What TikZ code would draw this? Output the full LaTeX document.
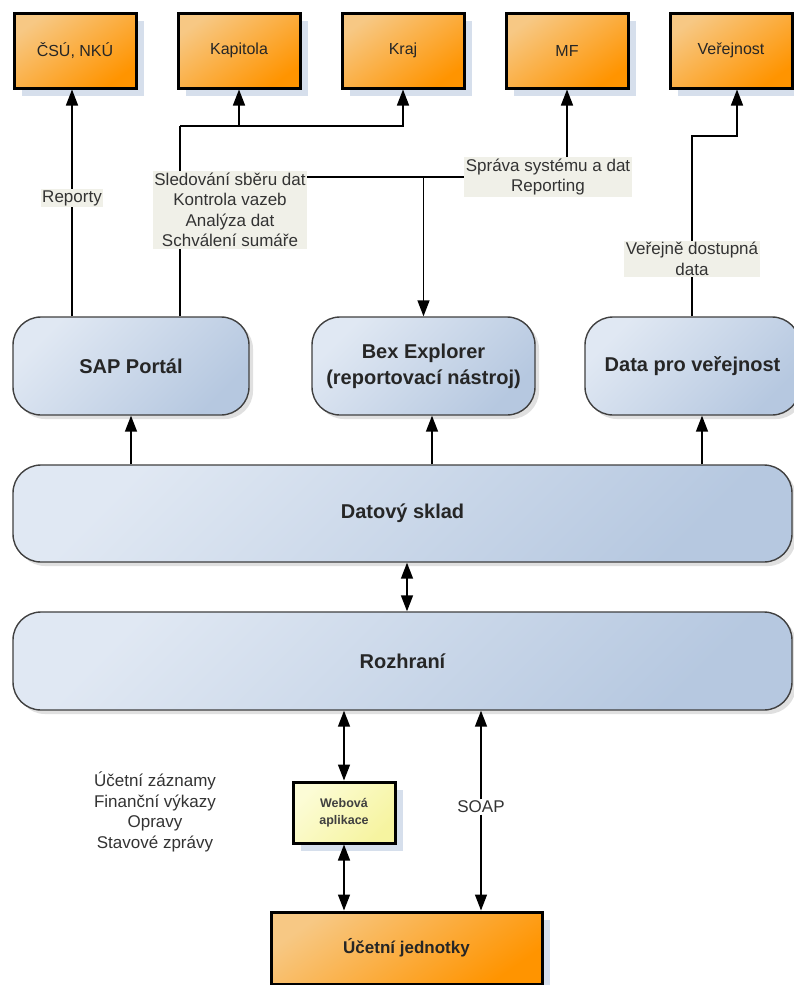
\documentclass[tikz,border=0pt]{standalone}
\usepackage{fontspec}
\setmainfont{Liberation Sans}
\usepackage{xcolor}
\usetikzlibrary{arrows.meta, positioning, shadows}
\definecolor{orgL}{RGB}{247,200,132}
\definecolor{orgM}{RGB}{255,158,26}
\definecolor{orgD}{RGB}{255,148,0}
\definecolor{bluL}{RGB}{224,232,243}
\definecolor{bluD}{RGB}{182,200,224}
\definecolor{shadowbl}{RGB}{214,223,236}
\definecolor{notebg}{RGB}{240,240,232}
\definecolor{webL}{RGB}{252,252,214}
\definecolor{webD}{RGB}{246,244,160}
\newcommand{\fsz}[2]{\fontsize{#1}{#2}\selectfont}

\begin{document}
\begin{tikzpicture}[x=1pt, y=-1pt,
    org/.style={rectangle, draw=black, line width=3pt, top color=orgL, middle color=orgM,
                bottom color=orgD, shading angle=35,
                drop shadow={shadow xshift=8pt, shadow yshift=-8pt, fill=shadowbl, opacity=1},
                minimum width=122pt, minimum height=75pt, align=center,
                text=black!85, font=\fsz{16}{19}},
    blu/.style={rectangle, rounded corners=28pt, draw=black!75, line width=1.4pt,
                top color=bluL, bottom color=bluD, shading angle=45,
                drop shadow={shadow xshift=4pt, shadow yshift=-4pt, fill=black!12, opacity=1},
                minimum height=98pt, align=center, text=black!85, font=\bfseries\fsz{20}{26}},
    web/.style={rectangle, draw=black, line width=3pt, top color=webL, bottom color=webD,
                shading angle=45,
                drop shadow={shadow xshift=8pt, shadow yshift=-8pt, fill=shadowbl, opacity=1},
                minimum width=102pt, minimum height=61pt, align=center,
                text=black!75, font=\bfseries\fsz{12.5}{17}},
    note/.style={fill=notebg, inner sep=1.5pt, align=center, text=black!80, font=\fsz{17}{20.5}},
    ln/.style={line width=1.5pt},
    arr/.style={-{Triangle[length=16pt, width=12pt]}, line width=1.5pt},
    dbl/.style={{Triangle[length=16pt, width=12pt]}-{Triangle[length=16pt, width=12pt]}, line width=1.5pt}
]
\path[use as bounding box, fill=white] (0,0) rectangle (793,985);

% cilove subjekty
\node[org] (csu) at (75,50.5) {ČSÚ, NKÚ};
\node[org, right=39pt of csu] (kap) {Kapitola};
\node[org, right=39pt of kap] (kraj) {Kraj};
\node[org, right=39pt of kraj] (mf) {MF};
\node[org, right=39pt of mf] (verej) {Veřejnost};

% nastroje
\node[blu, minimum width=236pt] (sap) at (131,366) {SAP Portál};
\node[blu, minimum width=223pt] (bex) at (423.5,366) {Bex Explorer\\(reportovací nástroj)};
\node[blu, minimum width=215pt] (pub) at (692.5,366) {Data pro veřejnost};
\node[blu, minimum width=779pt, minimum height=97pt] (dwh) at (402.5,513.5) {Datový sklad};
\node[blu, minimum width=779pt] (ifc) at (402.5,661) {Rozhraní};

\node[web] (webapp) at (344,812.5) {Webová\\aplikace};
\node[org, minimum width=271pt, minimum height=72pt, font=\bfseries\fsz{17}{20}] (unit) at (406.5,948) {Účetní jednotky};

% popisky
\node[note] (rep) at (72,198) {Reporty};
\node[note] (sled) at (230,210) {Sledování sběru dat\\Kontrola vazeb\\Analýza dat\\Schválení sumáře};
\node[note] (sprava) at (548,177) {Správa systému a dat\\Reporting};
\node[note] (publab) at (692,259) {Veřejně dostupná\\data};
\node[note, fill=white] (soap) at (481,807) {SOAP};
\node[note, fill=none] (zaznamy) at (155,812) {Účetní záznamy\\Finanční výkazy\\Opravy\\Stavové zprávy};

\coordinate (kbend) at (180,126);
\coordinate (vbend) at (692,136);
\coordinate (verin) at (737,0);
\coordinate (bexin) at (432,0);
\coordinate (pubin) at (702,0);
\coordinate (dbin) at (407,0);

\draw[arr] (sap.north -| rep) -- (rep) -- (rep |- csu.south);
\draw[ln] (sap.north -| kbend) -- (sled.south -| kbend);
\draw[ln] (sled.north -| kbend) -- (kbend);
\draw[arr] (kbend) -| (kap.south);
\draw[arr] (kbend) -| (kraj.south);
\draw[ln] (sprava.west -| sled.east) -- (sprava.west);
\draw[arr] (bex.north |- sprava.west) -- (bex.north);
\draw[arr] (sprava.north -| mf.south) -- (mf.south);
\draw[ln] (pub.north -| publab) -- (publab);
\draw[arr] (publab) -- (vbend) -| (verej.south -| verin);

\draw[arr] (dwh.north -| sap) -- (sap);
\draw[arr] (dwh.north -| bexin) -- (bex.south -| bexin);
\draw[arr] (dwh.north -| pubin) -- (pub.south -| pubin);
\draw[dbl] (dwh.south -| dbin) -- (ifc.north -| dbin);
\draw[dbl] (ifc.south -| webapp) -- (webapp.north);
\draw[dbl] (webapp.south) -- (unit.north -| webapp);
\draw[arr] (soap) -- (ifc.south -| soap);
\draw[arr] (soap) -- (unit.north -| soap);
\end{tikzpicture}
\end{document}
